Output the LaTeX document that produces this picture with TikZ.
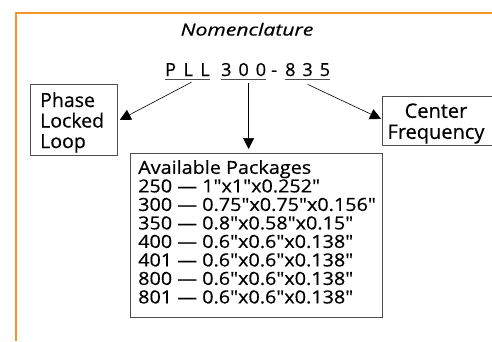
\documentclass[tikz,border=0pt]{standalone}
\usepackage{fontspec}
\setmainfont{Open Sans}[Ligatures=TeXOff, FakeBold=0.5]
\usetikzlibrary{arrows.meta,positioning}
\definecolor{frameorange}{RGB}{243,152,38}

\begin{document}
\begin{tikzpicture}[x=1pt,y=-1pt,
    box/.style={draw=black!70, line width=0.8pt, inner sep=0pt},
    arr/.style={-{Triangle[length=11pt,width=11pt]}, line width=0.6pt},
    partno/.style={inner sep=0pt, font=\fontsize{18}{20}\selectfont}]

  \useasboundingbox (0,0) rectangle (492,341);

  % frame
  \draw[frameorange, line width=2pt] (16,341) -- (16,13) -- (495,13);

  \node[inner sep=0pt, anchor=base,
    font=\fontsize{16.5}{19}\selectfont\itshape\addfontfeature{FakeStretch=1.28}] (title) at (247,35.5) {Nomenclature};

  % part number
  \node[partno, anchor=base west] (pll) at (165,76) {P\kern7.5pt L\kern7.5pt L};
  \node[partno, anchor=base west] (pkgno) at (221,76) {3\kern7pt 0\kern7pt 0};
  \node[partno, anchor=base west] (dash) at (271,76) {-};
  \node[partno, anchor=base west] (freq) at (285,76) {8\kern7pt 3\kern7pt 5};
  \foreach \n in {pll,pkgno,freq}
    \draw[black!70, line width=0.7pt] ([yshift=-3pt]\n.base west) -- ([yshift=-3pt]\n.base east);

  % boxes
  \node[box, anchor=north west, minimum width=87pt, minimum height=71pt] (phase) at (30,84) {};
  \node[anchor=north west, align=left, inner sep=0pt,
    font=\fontsize{19.5}{20.5}\selectfont] at (40,92) {Phase\\Locked\\Loop};

  \node[box, anchor=north west, minimum width=120pt, minimum height=49pt] (center) at (382,96) {};
  \node[align=center, inner sep=0pt, font=\fontsize{20}{21}\selectfont] at (436,123.5) {Center\\Frequency};

  \node[box, anchor=north west, minimum width=252pt, minimum height=164pt] (avail) at (130,153) {};
  \node[anchor=north west, align=left, inner sep=0pt,
    font=\fontsize{18}{18.5}\selectfont\addfontfeature{FakeStretch=1.1}] at (138,160) {Available Packages\\
    250 — 1"x1"x0.252"\\
    300 — 0.75"x0.75"x0.156"\\
    350 — 0.8"x0.58"x0.15"\\
    400 — 0.6"x0.6"x0.138"\\
    401 — 0.6"x0.6"x0.138"\\
    800 — 0.6"x0.6"x0.138"\\
    801 — 0.6"x0.6"x0.138"};

  % arrows
  \coordinate (vstart) at ([xshift=5pt,yshift=-7pt]pkgno.south);
  \draw[arr] ([xshift=4pt,yshift=-6pt]pll.south) -- ([xshift=2pt]phase.east);
  \draw[arr] (vstart) -- ([yshift=4pt]vstart |- avail.north);
  \draw[arr] ([yshift=-8pt]freq.south) -- ([xshift=-1pt,yshift=2pt]center.west);
\end{tikzpicture}
\end{document}
